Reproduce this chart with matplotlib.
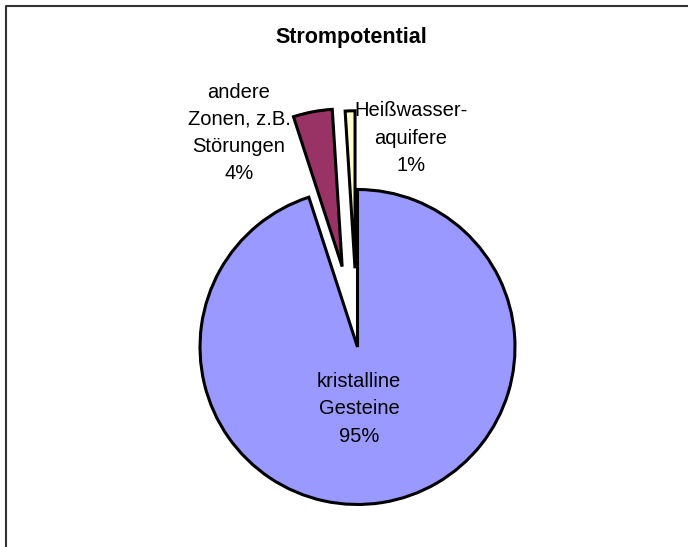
import matplotlib
matplotlib.use('Agg')
import matplotlib.pyplot as plt
from matplotlib.lines import Line2D

plt.rcParams['font.family'] = ['Liberation Sans', 'DejaVu Sans']

# Daten
kategorien = ['Heißwasser-\naquifere', 'andere\nZonen, z.B.\nStörungen', 'kristalline\nGesteine']
anteile = [1, 4, 95]
farben = ['#FFFFCC', '#993366', '#9999FF']
explode = [0.5, 0.52, 0.0]

fig = plt.figure(figsize=(6.88, 5.47), dpi=100)
ax = fig.add_axes([0, 0, 1, 1])

wedges, _ = ax.pie(anteile, colors=farben, explode=explode, startangle=90,
                   counterclock=True, radius=1,
                   wedgeprops=dict(edgecolor='black', linewidth=2.2))

# Pixel -> Dateneinheiten (Radius 1 = 157.5 px, Mittelpunkt bei 357.5/347)
r_px = 157.5
cx, cy = 357.5, 347
ax.set_aspect('auto')
ax.set_xlim(-cx / r_px, (688 - cx) / r_px)
ax.set_ylim(-(547 - cy) / r_px, cy / r_px)
ax.axis('off')

# Beschriftungen
beschriftung = [f'{k}\n{a}%' for k, a in zip(kategorien, anteile)]
pos = [(411, 138), (239, 133), (359, 409)]
for txt, (px, py) in zip(beschriftung, pos):
    ax.text((px - cx) / r_px, (cy - py) / r_px, txt, ha='center', va='center',
            fontsize=14.5, linespacing=1.55)

fig.text(351 / 688, 1 - 37 / 547, 'Strompotential', ha='center', va='center',
         fontsize=15.5, fontweight='bold')

# Rahmen (nur links und oben sichtbar)
fig.add_artist(Line2D([5.5 / 688, 5.5 / 688, 1], [0, 1 - 5.5 / 547, 1 - 5.5 / 547],
                      transform=fig.transFigure, color='#333333', linewidth=1.5))

fig.savefig('out.png', dpi=100)
